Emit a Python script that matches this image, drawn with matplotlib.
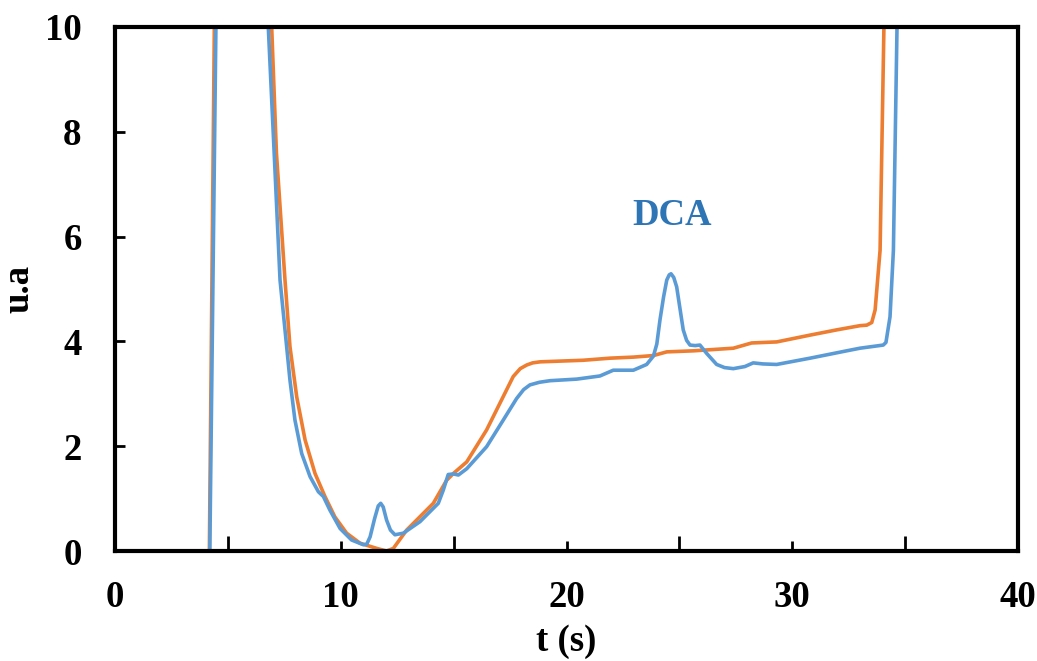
import matplotlib
matplotlib.use("Agg")
import matplotlib.pyplot as plt
from matplotlib.ticker import FixedLocator

# Blue series (with DCA peak)
blue_t = [0.0, 4.0, 4.2, 4.47, 4.6, 5.5, 6.6, 6.79, 7.05, 7.31, 7.53, 7.75, 7.97, 8.27,
          8.64, 9.01, 9.23, 9.52, 9.97, 10.48, 11.0, 11.15, 11.30, 11.50, 11.66, 11.77,
          11.88, 12.03, 12.20, 12.40, 12.77, 13.51, 14.32, 14.54, 14.76, 15.0, 15.21,
          15.58, 16.46, 17.2, 17.79, 18.1, 18.38, 18.8, 19.27, 20.45, 21.48, 22.07,
          22.96, 23.55, 23.85, 24.0, 24.14, 24.30, 24.44, 24.55, 24.63, 24.75, 24.88,
          25.0, 25.17, 25.32, 25.47, 25.70, 25.91, 26.21, 26.65, 27.0, 27.39, 27.9,
          28.27, 28.7, 29.31, 30.79, 32.41, 33.0, 34.03, 34.15, 34.33, 34.48, 34.64, 34.75]
blue_v = [0.0, 0.0, 0.0, 10.0, 14.0, 40.0, 14.0, 10.0, 7.6, 5.17, 4.22, 3.26, 2.50, 1.86,
          1.42, 1.13, 1.04, 0.78, 0.43, 0.21, 0.12, 0.13, 0.27, 0.62, 0.86, 0.91,
          0.84, 0.59, 0.40, 0.31, 0.34, 0.56, 0.91, 1.16, 1.46, 1.47, 1.45,
          1.57, 1.99, 2.50, 2.91, 3.08, 3.17, 3.22, 3.25, 3.28, 3.34, 3.45,
          3.45, 3.56, 3.72, 3.95, 4.41, 4.85, 5.17, 5.27, 5.29, 5.22, 5.04,
          4.70, 4.22, 4.02, 3.93, 3.92, 3.93, 3.77, 3.56, 3.50, 3.48, 3.52,
          3.59, 3.57, 3.56, 3.68, 3.82, 3.87, 3.93, 3.98, 4.47, 5.74, 10.0, 14.0]

# Orange series
orange_t = [0.0, 4.0, 4.18, 4.40, 4.55, 5.5, 6.7, 6.94, 7.15, 7.53, 7.75, 8.05, 8.42,
            8.86, 9.30, 9.74, 10.26, 10.85, 11.59, 12.03, 12.33, 12.92, 14.10, 14.69,
            14.99, 15.58, 16.46, 17.05, 17.64, 17.95, 18.24, 18.5, 18.83, 20.74, 21.93,
            22.96, 23.85, 24.44, 25.62, 27.39, 28.20, 29.31, 30.79, 31.97, 33.0, 33.3,
            33.52, 33.67, 33.89, 34.06, 34.15]
orange_v = [0.0, 0.0, 0.0, 10.0, 14.0, 40.0, 14.0, 10.0, 7.6, 5.17, 3.90, 2.94, 2.12,
            1.48, 1.04, 0.65, 0.34, 0.15, 0.05, 0.0, 0.05, 0.40, 0.91, 1.35,
            1.48, 1.70, 2.31, 2.82, 3.33, 3.48, 3.55, 3.59, 3.61, 3.64, 3.68,
            3.70, 3.73, 3.80, 3.82, 3.87, 3.97, 3.99, 4.12, 4.22, 4.30, 4.31,
            4.36, 4.60, 5.74, 10.0, 14.0]

x_major = [0, 10, 20, 30, 40]
x_minor = [5, 15, 25, 35]
y_ticks = [0, 2, 4, 6, 8, 10]

FONT = "Liberation Serif"
plt.rcParams["font.family"] = [FONT, "DejaVu Serif"]
plt.rcParams["font.weight"] = "bold"
FS = 26.5

fig = plt.figure(figsize=(10.37, 6.61), dpi=100)
ax = fig.add_axes([0.1109, 0.1664, 0.8708, 0.7928])

ax.plot(orange_t, orange_v, color="#ED7D31", lw=2.6, solid_joinstyle="round",
        solid_capstyle="round", zorder=3)
ax.plot(blue_t, blue_v, color="#5B9BD5", lw=2.6, solid_joinstyle="round",
        solid_capstyle="round", zorder=4)

ax.set_xlim(0, 40)
ax.set_ylim(0, 10)

ax.xaxis.set_major_locator(FixedLocator(x_major))
ax.xaxis.set_minor_locator(FixedLocator(x_minor))
ax.yaxis.set_major_locator(FixedLocator(y_ticks))

ax.tick_params(axis="x", which="major", direction="in", length=7, width=2,
               labelsize=FS, pad=21, top=False)
ax.tick_params(axis="x", which="minor", direction="in", length=11, width=2, top=False)
ax.tick_params(axis="y", which="major", direction="in", length=7, width=2,
               labelsize=FS, pad=24, right=False)
for lab in ax.get_xticklabels() + ax.get_yticklabels():
    lab.set_fontweight("bold")

for side in ["left", "right", "top", "bottom"]:
    ax.spines[side].set_linewidth(3)
    ax.spines[side].set_color("black")
    ax.spines[side].set_zorder(5)

ax.set_xlabel("t (s)", fontsize=FS, fontweight="bold", labelpad=6)
ax.set_ylabel("u.a", fontsize=FS, fontweight="bold", labelpad=6)

ax.text(24.67, 6.41, "DCA", color="#2E75B6", fontsize=FS, fontweight="bold",
        ha="center", va="center")

fig.savefig("out.png", dpi=100)
